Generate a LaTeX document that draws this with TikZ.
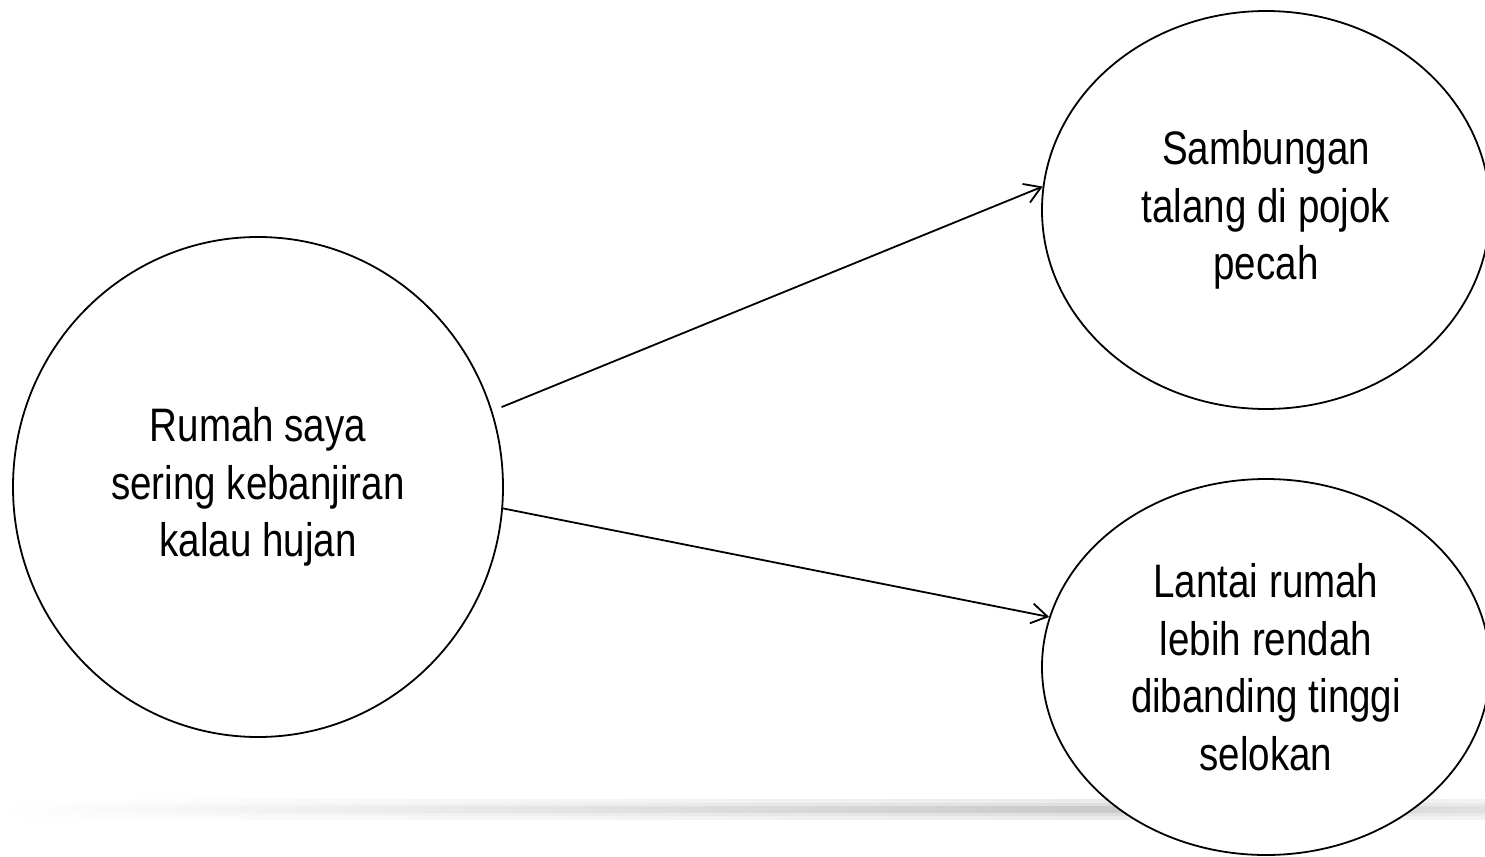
\documentclass[tikz,border=0pt]{standalone}
\usepackage{fontspec}
\setmainfont{Liberation Sans}[FakeStretch=0.82]
\usetikzlibrary{shapes.geometric,arrows.meta}
\tikzset{
  bubble/.style={ellipse, draw=black, line width=0.9pt, fill=white, inner sep=0pt,
    align=center, font=\fontsize{23.5}{28.75}\selectfont},
  link/.style={line width=0.9pt, -{Straight Barb[length=8pt,width=10pt]}}
}
\begin{document}
\begin{tikzpicture}[x=0.5pt,y=-0.5pt]
\useasboundingbox (0,0) rectangle (1485,857);
% soft shadow band
\shade[left color=white, right color=black!8] (0,799) rectangle (1100,819);
\shade[left color=black!8, right color=black!5] (1100,799) rectangle (1485,819);
\shade[left color=white, right color=black!13] (0,803) rectangle (1100,815);
\shade[left color=black!13, right color=black!8] (1100,803) rectangle (1485,815);
\shade[left color=white, right color=black!21] (0,806) rectangle (1100,812);
\shade[left color=black!21, right color=black!12] (1100,806) rectangle (1485,812);
% nodes
\node[bubble, minimum width=245pt, minimum height=250pt] (L) at (258,487)
  {Rumah saya\\sering kebanjiran\\kalau hujan};
\node[bubble, minimum width=224pt, minimum height=199pt] (T) at (1266,210)
  {Sambungan\\talang di pojok\\pecah};
\node[bubble, minimum width=224pt, minimum height=188pt] (B) at (1266,667)
  {Lantai rumah\\lebih rendah\\dibanding tinggi\\selokan};
% connectors
\draw[link, shorten <=5pt] (L.18) -- (T.174);
\draw[link] (L.-5) -- (B.167);
\end{tikzpicture}
\end{document}
